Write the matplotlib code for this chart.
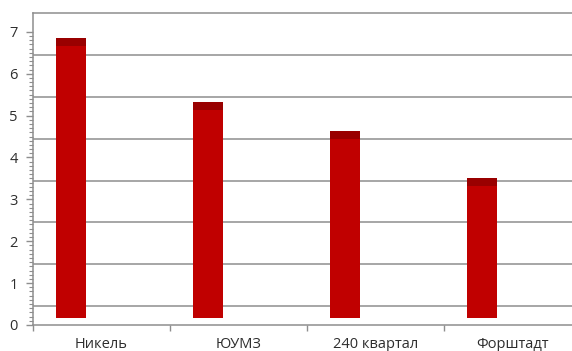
import numpy as np
import matplotlib
matplotlib.use("Agg")
import matplotlib.pyplot as plt
from matplotlib.ticker import FixedLocator

plt.rcParams['font.family'] = ['Open Sans', 'DejaVu Sans']

categories = ["Никель", "ЮУМЗ", "240 квартал", "Форштадт"]
values = [6.86, 5.33, 4.64, 3.51]
y_ticks = [0, 1, 2, 3, 4, 5, 6, 7]

floor = 0.17        # bars stand on the floor of the 3-D box
cap_depth = 0.19    # visible top face of each bar
wall_shift = 0.45   # back-wall gridlines sit above the axis ticks
y_top = 7.45

bar_color = "#c00000"
cap_color = "#990000"
grid_color = "#8e8e8e"
text_color = "#2e2e2e"

W, H = 572, 351
fig = plt.figure(figsize=(W / 100, H / 100), dpi=100)
left_px, right_px, bottom_px, top_px = 33, 581, 325, 13
ax = fig.add_axes([left_px / W, (H - bottom_px) / H,
                   (right_px - left_px) / W, (bottom_px - top_px) / H])

n = len(categories)
ax.set_xlim(0, n)
ax.set_ylim(0, y_top)

# back-wall gridlines
for k in range(7):
    ax.axhline(k + wall_shift, color=grid_color, lw=1.1, zorder=1)
ax.axhline(y_top, color=grid_color, lw=1.1, zorder=1, clip_on=False)

x = np.arange(n) + 0.28
width = 0.22
vals = np.array(values)
ax.bar(x, vals - floor, bottom=floor, width=width, color=bar_color,
       zorder=3, linewidth=0)
ax.bar(x, np.full(n, cap_depth), bottom=vals - cap_depth, width=width,
       color=cap_color, zorder=4, linewidth=0)

for s in ["top", "right"]:
    ax.spines[s].set_visible(False)
for s in ["left", "bottom"]:
    ax.spines[s].set_color(grid_color)
    ax.spines[s].set_linewidth(1.1)

ax.set_yticks(y_ticks)
ax.yaxis.set_minor_locator(FixedLocator(np.arange(0, 71) / 10))
ax.tick_params(axis='y', which='major', length=5, width=1, color=grid_color,
               labelsize=10.5, labelcolor=text_color, pad=6)
ax.tick_params(axis='y', which='minor', length=3, width=0.8, color=grid_color)

ax.set_xticks(np.arange(n + 1))
ax.set_xticklabels([])
ax.set_xticks(np.arange(n) + 0.5, minor=True)
ax.set_xticklabels(categories, minor=True)
ax.tick_params(axis='x', which='major', length=4, width=1, color=grid_color)
ax.tick_params(axis='x', which='minor', length=0, labelsize=10.5,
               labelcolor=text_color, pad=9)

fig.savefig("out.png", dpi=100)
